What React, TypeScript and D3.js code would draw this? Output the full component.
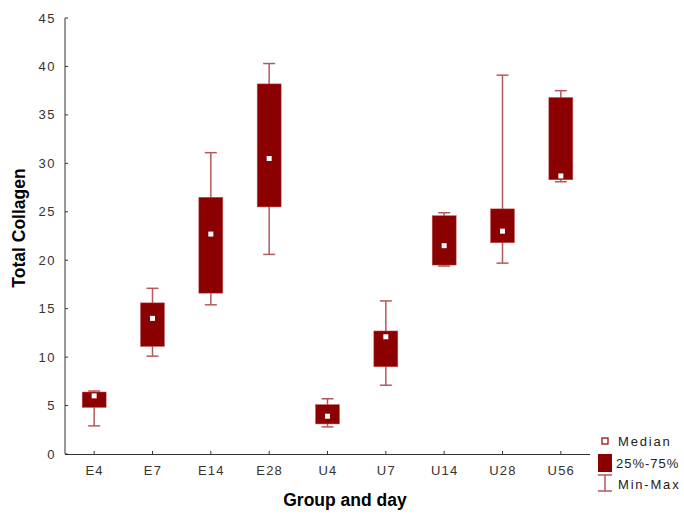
import React from 'react';
import {scaleBand, scaleLinear} from 'd3';

const groups = ['E4', 'E7', 'E14', 'E28', 'U4', 'U7', 'U14', 'U28', 'U56'];
const minVals = [2.9, 10.1, 15.4, 20.6, 2.8, 7.1, 19.4, 19.7, 28.1];
const q1Vals = [4.8, 11.1, 16.6, 25.5, 3.1, 9.0, 19.5, 21.8, 28.3];
const medVals = [6.0, 14.0, 22.7, 30.5, 3.9, 12.1, 21.5, 23.0, 28.7];
const q3Vals = [6.4, 15.6, 26.5, 38.2, 5.1, 12.7, 24.6, 25.3, 36.8];
const maxVals = [6.5, 17.1, 31.1, 40.3, 5.7, 15.8, 24.9, 39.1, 37.5];
const yTicks = [0, 5, 10, 15, 20, 25, 30, 35, 40, 45];

const BOX = '#8b0000';
const WHISK = '#b55a5a';
const AXIS = '#333333';
const FONT = '"Liberation Sans", Arial, sans-serif';

const App = (): JSX.Element => {
    const x = scaleBand().domain(groups).range([65, 590]);
    const y = scaleLinear().domain([0, 45]).range([454, 18]);
    const bw = 24;
    const cap = 12;

    return (
        <svg width="684" height="514" style={{position: 'absolute', left: 0, top: 0}} fontFamily={FONT}>
            {/* axes */}
            <line x1={65} x2={65} y1={y(45)} y2={y(0)} stroke={AXIS} />
            <line x1={65} x2={590} y1={y(0) + 0.5} y2={y(0) + 0.5} stroke={AXIS} />
            {yTicks.map(t => (
                <g key={t}>
                    <line x1={65} x2={68} y1={y(t)} y2={y(t)} stroke={AXIS} />
                    <text x={56} y={y(t)} dy="0.35em" textAnchor="end" fontSize={13} fill="#333" letterSpacing="1.5">{t}</text>
                </g>
            ))}
            {groups.map(g => {
                const cx = x(g)! + x.bandwidth() / 2;
                return (
                    <g key={g}>
                        <line x1={cx} x2={cx} y1={y(0)} y2={y(0) - 3} stroke={AXIS} />
                        <text x={cx + 0.5} y={475} textAnchor="middle" fontSize={13} fill="#333" letterSpacing="1.2">{g}</text>
                    </g>
                );
            })}
            {/* boxes */}
            {groups.map((g, i) => {
                const cx = x(g)! + x.bandwidth() / 2;
                return (
                    <g key={g}>
                        <line x1={cx} x2={cx} y1={y(maxVals[i])} y2={y(minVals[i])} stroke={WHISK} strokeWidth={1.5} />
                        <line x1={cx - cap / 2} x2={cx + cap / 2} y1={y(maxVals[i])} y2={y(maxVals[i])} stroke={WHISK} strokeWidth={1.5} />
                        <line x1={cx - cap / 2} x2={cx + cap / 2} y1={y(minVals[i])} y2={y(minVals[i])} stroke={WHISK} strokeWidth={1.5} />
                        <rect x={cx - bw / 2} y={y(q3Vals[i])} width={bw} height={y(q1Vals[i]) - y(q3Vals[i])} fill={BOX} stroke="#c06060" strokeWidth={0.5} />
                        <rect x={cx - 2.5} y={y(medVals[i]) - 2.5} width={5} height={5} fill="#ffffff" />
                    </g>
                );
            })}
            {/* axis titles */}
            <text transform={`translate(25,${228}) rotate(-90)`} textAnchor="middle" fontSize={17.5} fontWeight="bold" fill="#000">Total Collagen</text>
            <text x={345} y={506} textAnchor="middle" fontSize={17.5} fontWeight="bold" fill="#000">Group and day</text>
            {/* legend */}
            <rect x={602} y={438} width={6} height={6} fill="#fff" stroke={BOX} strokeWidth={1.2} />
            <text x={618} y={446} fontSize={13} fill="#222" letterSpacing="1.8">Median</text>
            <rect x={598} y={454} width={14} height={18} fill={BOX} />
            <text x={616} y={468} fontSize={13} fill="#222" letterSpacing="1">25%-75%</text>
            <line x1={598} x2={612} y1={475} y2={475} stroke={WHISK} strokeWidth={1.5} />
            <line x1={605} x2={605} y1={475} y2={491} stroke={WHISK} strokeWidth={1.5} />
            <line x1={598} x2={612} y1={491} y2={491} stroke={WHISK} strokeWidth={1.5} />
            <text x={618} y={489} fontSize={13} fill="#222" letterSpacing="1.8">Min-Max</text>
        </svg>
    );
};

export default App;
